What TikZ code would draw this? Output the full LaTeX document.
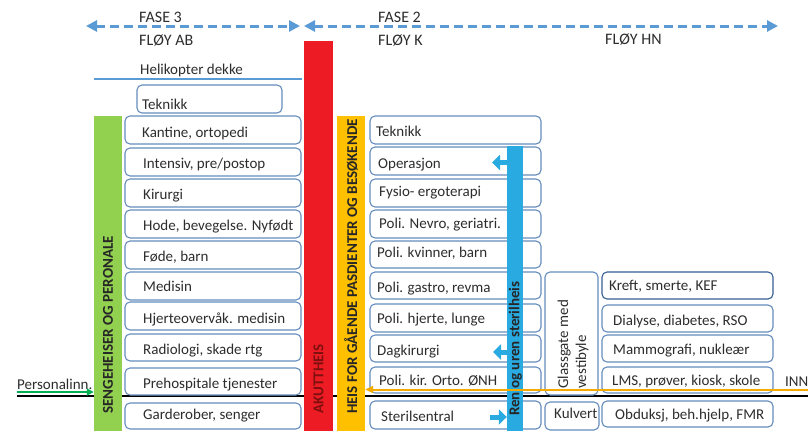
\documentclass[tikz,border=0pt]{standalone}
\usepackage{fontspec}
\setmainfont{Carlito}
\usetikzlibrary{arrows.meta,fit}
\definecolor{boxc}{RGB}{100,140,190}
\definecolor{boxd}{RGB}{55,95,150}
\definecolor{hdr}{RGB}{91,155,213}
\definecolor{txt}{RGB}{45,45,45}
\definecolor{gbar}{RGB}{146,208,80}
\definecolor{rbar}{RGB}{237,28,36}
\definecolor{ybar}{RGB}{255,192,0}
\definecolor{bbar}{RGB}{41,171,226}
\definecolor{pgreen}{RGB}{0,176,80}
\definecolor{innc}{RGB}{245,170,0}
\definecolor{akut}{RGB}{125,15,15}
\newcommand\bx[9][boxc]{%
  \node[box,draw=#1,fit={(#3,#4) (#5,#6)}] (#2) {};
  \node[lbl] (#2t) at (#7,#8) {#9};}
\begin{document}
\begin{tikzpicture}[x=1pt,y=-1pt,
  font=\fontsize{15}{18}\selectfont, text=txt,
  box/.style={line width=1.1pt, rounded corners=5pt, fill=white, inner sep=0pt},
  lbl/.style={anchor=base west, inner sep=0pt},
  hd/.style={anchor=base west, inner sep=0pt, font=\fontsize{16}{19}\selectfont, text=txt},
  bar/.style={inner sep=0pt, draw=none},
  vtxt/.style={rotate=90, anchor=west, font=\fontsize{15}{18}\selectfont\bfseries, inner sep=0pt, text=black!85},
  fase/.style={draw=hdr, line width=3pt, dash pattern=on 9pt off 5pt,
    {Triangle[length=11pt,width=11pt]}-{Triangle[length=11pt,width=11pt]}},
  barrow/.style={draw=bbar, line width=5pt, -{Triangle[length=8pt,width=15pt]}}
]
\fill[white] (0,0) rectangle (808,431);
\useasboundingbox (0,0) rectangle (808,431);

% header arrows and texts
\coordinate (f3l) at (86,26); \coordinate (f3r) at (300,26);
\coordinate (f2l) at (304,26); \coordinate (f2r) at (778,26);
\draw[fase] (f3l) -- (f3r);
\draw[fase] (f2l) -- (f2r);
\node[hd] (fase3) at (139,23) {FASE 3};
\node[hd] (flab) at (139,45) {FLØY AB};
\node[hd] (fase2) at (378,23) {FASE 2};
\node[hd] (flk) at (378,45) {FLØY K};
\node[hd] (flhn) at (605,44.5) {FLØY HN};

% helikopter
\node[lbl] (heli) at (140,74) {Helikopter dekke};
\coordinate (hl) at (94,79); \coordinate (hr) at (302,79);
\draw[hdr, line width=2pt] (hl) -- (hr);

% black ground line
\coordinate (gl) at (17,396); \coordinate (gr) at (808,396);
\draw[line width=2.5pt] (gl) -- (gr);

% bars
\node[bar, fill=gbar, fit={(94,116) (122,431)}] (green) {};
\node[bar, fill=rbar, fit={(304,41) (333,431)}] (red) {};
\node[bar, fill=ybar, fit={(337,116) (365,431)}] (yellow) {};

% left column
\bx{tek1}{137}{85}{282}{113}{142}{109}{Teknikk}
\bx{kant}{125}{116}{301}{144}{142}{137}{Kantine, ortopedi}
\bx{inte}{125}{148}{301}{176}{143}{168.5}{Intensiv, pre/postop}
\bx{kiru}{125}{179}{301}{207}{143}{199}{Kirurgi}
\bx{hode}{125}{210}{301}{238}{143}{230}{Hode, bevegelse. Nyfødt}
\bx{fode}{125}{241}{301}{269}{143}{261}{Føde, barn}
\bx{medi}{125}{272}{301}{300}{143}{291.5}{Medisin}
\bx{hjer}{125}{302}{301}{330}{143}{323}{Hjerteovervåk. medisin}
\bx{radi}{125}{334}{301}{361}{143}{354}{Radiologi, skade rtg}
\bx{preh}{125}{368}{301}{395}{143}{388}{Prehospitale tjenester}
\bx{gard}{125}{403}{301}{429}{143}{419.5}{Garderober, senger}

% middle column
\bx{tek2}{370}{116}{541}{144}{376}{136}{Teknikk}
\bx{oper}{370}{147}{541}{175}{378}{168}{Operasjon}
\bx{fysi}{370}{179}{541}{207}{379}{196}{Fysio- ergoterapi}
\bx{nevr}{370}{210}{541}{238}{379}{228}{Poli. Nevro, geriatri.}
\bx{kvin}{370}{241}{541}{268}{377}{257.5}{Poli. kvinner, barn}
\bx{gast}{370}{272}{541}{299}{377}{292.5}{Poli. gastro, revma}
\bx{hjlu}{370}{304}{541}{332}{377}{323.5}{Poli. hjerte, lunge}
\bx{dagk}{370}{335}{541}{362}{377}{355}{Dagkirurgi}
\bx{pkir}{370}{367}{541}{393}{379}{385}{Poli. kir. Orto. ØNH}
\bx{ster}{370}{401}{541}{429}{381}{421.5}{Sterilsentral}

% glassgate and kulvert
\node[box, draw=boxc, fit={(545,272) (598,395)}] (glass) {};
\node[rotate=90, anchor=west, align=left, inner sep=0pt] (glasst) at (573,389) {Glassgate med\\vestibyle};
\bx{kulv}{545}{402}{599}{430}{554}{418.5}{Kulvert}

% right column
\bx[boxd]{kref}{602}{272}{773}{299}{609}{290.5}{Kreft, smerte, KEF}
\bx{dial}{602}{305}{773}{332}{613}{325}{Dialyse, diabetes, RSO}
\bx{mamm}{602}{335}{773}{362}{613}{354.5}{Mammografi, nukleær}
\bx{lms}{602}{367}{773}{393}{612}{385}{LMS, prøver, kiosk, skole}
\bx{obdu}{602}{401}{773}{427}{615}{419.5}{Obduksj, beh.hjelp, FMR}

% blue sterile lift
\node[bar, fill=bbar, fit={(507,146) (523,431)}] (blue) {};

% vertical texts
\node[vtxt] (gtxt) at (108,414) {SENGEHEISER OG PERONALE};
\node[vtxt, text=akut] (rtxt) at (318.5,414) {AKUTTHEIS};
\node[vtxt] (ytxt) at (351,414) {HEIS FOR GÅENDE PASDIENTER OG BESØKENDE};
\node[vtxt] (btxt) at (515.5,416) {Ren og uren sterilheis};

% blue arrows
\coordinate (a1) at (492,162.5);
\coordinate (a2) at (493,352);
\coordinate (a3) at (490,417);
\draw[barrow] (blue.west |- a1) -- (a1);
\draw[barrow] (blue.west |- a2) -- (a2);
\draw[barrow] (a3) -- (blue.west |- a3);

% personal entrance
\node[lbl] (pers) at (17,389) {Personalinn.};
\coordinate (pin) at (17,392);
\draw[pgreen, line width=2pt, -{Triangle[length=7pt,width=7pt]}] (pin) -- (pin -| green.west);

% main entrance
\node[lbl] (inn) at (785,386) {INN};
\coordinate (innr) at (808,389.5);
\draw[innc, line width=2pt, -{Triangle[length=8pt,width=7pt]}] (innr) -- (innr -| yellow.east);
\end{tikzpicture}
\end{document}
